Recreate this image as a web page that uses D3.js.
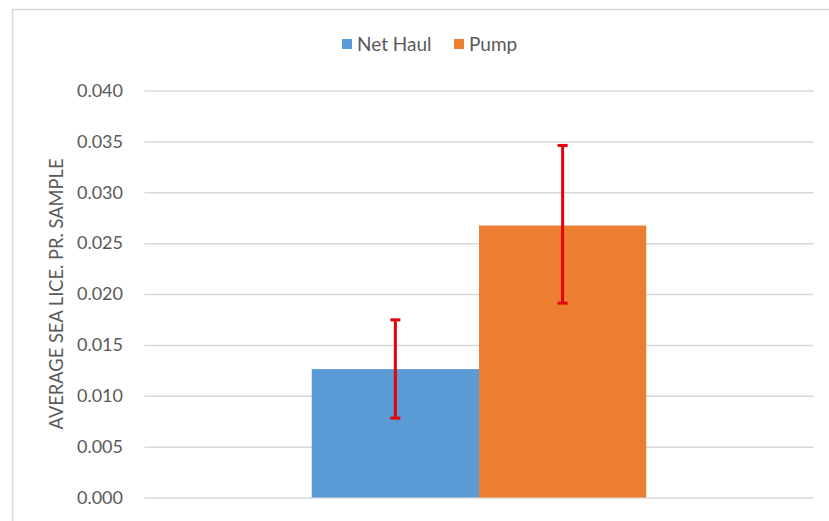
<!DOCTYPE html>
<html><head><meta charset="utf-8">
<script src="https://cdn.jsdelivr.net/npm/d3@7"></script>
<style>body{margin:0;background:#fff;} svg{display:block;}</style>
</head><body>
<svg id="c" width="829" height="521"></svg>
<script>
const categories = ["All"];
const seriesNames = ["Net Haul", "Pump"];
const seriesValues = [0.01262, 0.02673];
const errorLow = [0.0078, 0.0191];
const errorHigh = [0.01746, 0.0346];
const yTicks = [0, 0.005, 0.010, 0.015, 0.020, 0.025, 0.030, 0.035, 0.040];
const colors = ["#5B9BD5", "#ED7D31"];

const svg = d3.select("#c");
const font = "Lato, 'Open Sans', sans-serif";
svg.append("rect").attr("x",12.5).attr("y",9.5).attr("width",830).attr("height",530)
  .attr("fill","#fff").attr("stroke","#d9d9d9").attr("stroke-width",1.5);

const m = {left:144.5, right:813.5, top:90.5, bottom:497.5};
const y = d3.scaleLinear().domain([0,0.04]).range([m.bottom, m.top]);
const x0 = d3.scaleBand().domain(categories).range([m.left, m.right]).paddingInner(0).paddingOuter(0);
const x1 = d3.scaleBand().domain(seriesNames).range([0, x0.bandwidth()]).paddingOuter(1).paddingInner(0);

const yAxis = d3.axisLeft(y).tickValues(yTicks).tickFormat(d3.format(".3f")).tickSize(-(m.right-m.left)).tickPadding(21.5);
const ga = svg.append("g").attr("transform",`translate(${m.left},0)`).call(yAxis);
ga.select(".domain").remove();
ga.selectAll(".tick line").attr("stroke","#d9d9d9").attr("stroke-width",1.5);
ga.selectAll(".tick text").attr("fill","#595959").style("font-family",font).style("font-size","18px");

const g = svg.append("g");
categories.forEach(cat => {
  seriesNames.forEach((s,i) => {
    const bx = x0(cat) + x1(s);
    g.append("rect").attr("x", bx).attr("y", y(seriesValues[i]))
      .attr("width", x1.bandwidth()).attr("height", y(0)-y(seriesValues[i])).attr("fill", colors[i]);
  });
  seriesNames.forEach((s,i) => {
    const cx = x0(cat) + x1(s) + x1.bandwidth()/2;
    const e = g.append("g").attr("stroke","#E8000B").attr("stroke-width",3);
    e.append("line").attr("x1",cx).attr("x2",cx).attr("y1",y(errorHigh[i])).attr("y2",y(errorLow[i]));
    [errorHigh[i], errorLow[i]].forEach(v => {
      e.append("line").attr("x1",cx-5).attr("x2",cx+5).attr("y1",y(v)).attr("y2",y(v));
    });
  });
});

// y axis title
svg.append("text").attr("transform","translate(63,294) rotate(-90)")
  .attr("text-anchor","middle").attr("fill","#595959").style("font-family",font).style("font-size","18.3px")
  .text("AVERAGE SEA LICE. PR. SAMPLE");

// legend
const legX = [342, 454];
seriesNames.forEach((s,i) => {
  svg.append("rect").attr("x",legX[i]).attr("y",39).attr("width",10).attr("height",10).attr("fill",colors[i]);
  svg.append("text").attr("x",legX[i]+15).attr("y",50.5).attr("fill","#595959")
    .style("font-family",font).style("font-size","19px").text(s);
});
</script>
</body></html>
